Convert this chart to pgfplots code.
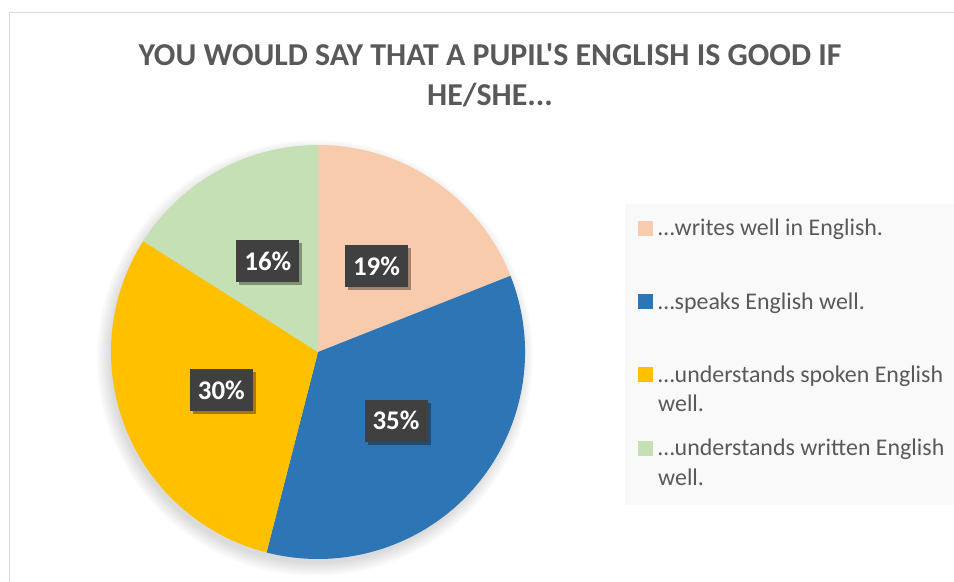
\documentclass[border=0pt]{standalone}
\usepackage{pgfplots}
\pgfplotsset{compat=1.18}
\usepackage{pgfplotstable}
\usepackage{fontspec}
\setmainfont{Carlito}[Ligatures=TeXOff]
\usetikzlibrary{shadows}
\definecolor{cWrite}{HTML}{F8CBAD}
\definecolor{cSpeak}{HTML}{2E75B6}
\definecolor{cSpoken}{HTML}{FFC000}
\definecolor{cWritten}{HTML}{C5E0B4}
\definecolor{titlegray}{HTML}{595959}
\definecolor{boxgray}{HTML}{404040}
\definecolor{legbg}{HTML}{F9F9F9}
\definecolor{framegray}{HTML}{D9D9D9}

\tikzset{datalabel/.style={fill=boxgray, text=white, font=\bfseries\fontsize{27}{30}\selectfont,
    minimum width=63bp, minimum height=42bp, inner sep=0bp,
    drop shadow={shadow xshift=3bp, shadow yshift=-3bp, opacity=0.35, fill=black}}}

\pgfplotstableread{
id value
w 19
s 35
u 30
r 16
}\piedata

\begin{document}
\begin{tikzpicture}
\useasboundingbox (0,0) rectangle (954bp,582bp);
\clip (0,0) rectangle (954bp,582bp);
\pgfplotstablegetelem{0}{value}\of\piedata \edef\va{\pgfplotsretval}
\pgfplotstablegetelem{1}{value}\of\piedata \edef\vb{\pgfplotsretval}
\pgfplotstablegetelem{2}{value}\of\piedata \edef\vc{\pgfplotsretval}
\pgfplotstablegetelem{3}{value}\of\piedata \edef\vd{\pgfplotsretval}
\pgfmathsetmacro\aA{90}
\pgfmathsetmacro\aB{\aA-3.6*\va}
\pgfmathsetmacro\aC{\aB-3.6*\vb}
\pgfmathsetmacro\aD{\aC-3.6*\vc}
\pgfmathsetmacro\aE{\aD-3.6*\vd}
\pgfmathsetmacro\mA{(\aA+\aB)/2}
\pgfmathsetmacro\mB{(\aB+\aC)/2}
\pgfmathsetmacro\mC{(\aC+\aD)/2}
\pgfmathsetmacro\mD{(\aD+\aE)/2}
\begin{axis}[
  x=1bp, y=1bp, xmin=0, xmax=954, ymin=0, ymax=582,
  hide axis, clip=false,
  legend image code/.code={\fill[#1, draw=none] (0bp,0bp) rectangle (15bp,15bp);},
  legend cell align=left,
  legend style={at={(axis cs:625,378)}, anchor=north west,
    fill=legbg, draw=none,
    font=\fontsize{24}{29.5}\selectfont, text=titlegray,
    inner xsep=13bp, inner ysep=11bp, row sep=14.3bp, column sep=5bp,
    nodes={inner sep=0bp, text height=20.65bp, text depth=38.35bp, anchor=base west}},
]
% frame
\draw[framegray, line width=1.5bp] (axis cs:9.5,0) -- (axis cs:9.5,569.5) -- (axis cs:960,569.5);
% title
\node[font=\bfseries\fontsize{32}{40}\selectfont, text=titlegray, align=center]
  at (axis cs:490,507) {YOU WOULD SAY THAT A PUPIL'S ENGLISH IS GOOD IF\\HE/SHE...};
% soft shadow of the pie
\pgfplotsinvokeforeach{1,...,12}{
  \fill[black, opacity=0.012] (axis cs:315,224) circle[radius=204bp+#1*1.2bp];
}
% wedges
\fill[cWrite]   (axis cs:318,230) -- ++(\aA:207bp) arc[start angle=\aA, end angle=\aB, radius=207bp] -- cycle;
\fill[cSpeak]   (axis cs:318,230) -- ++(\aB:207bp) arc[start angle=\aB, end angle=\aC, radius=207bp] -- cycle;
\fill[cSpoken]  (axis cs:318,230) -- ++(\aC:207bp) arc[start angle=\aC, end angle=\aD, radius=207bp] -- cycle;
\fill[cWritten] (axis cs:318,230) -- ++(\aD:207bp) arc[start angle=\aD, end angle=\aE, radius=207bp] -- cycle;
% data labels
\path (axis cs:318,230) ++(\mA:104bp) node[datalabel] {\va\%};
\path (axis cs:318,230) ++(\mB:104bp) node[datalabel] {\vb\%};
\path (axis cs:318,230) ++(\mC:104bp) node[datalabel] {\vc\%};
\path (axis cs:318,230) ++(\mD:104bp) node[datalabel] {\vd\%};
% legend
\addlegendimage{fill=cWrite}
\addlegendentry{\vtop{\hbox{\strut…writes well in English.}\hbox{\strut}}}
\addlegendimage{fill=cSpeak}
\addlegendentry{\vtop{\hbox{\strut…speaks English well.}\hbox{\strut}}}
\addlegendimage{fill=cSpoken}
\addlegendentry{\vtop{\hbox{\strut…understands spoken English}\hbox{\strut well.}}}
\addlegendimage{fill=cWritten}
\addlegendentry{\vtop{\hbox{\strut…understands written English}\hbox{\strut well.}}}
\end{axis}
\end{tikzpicture}
\end{document}
